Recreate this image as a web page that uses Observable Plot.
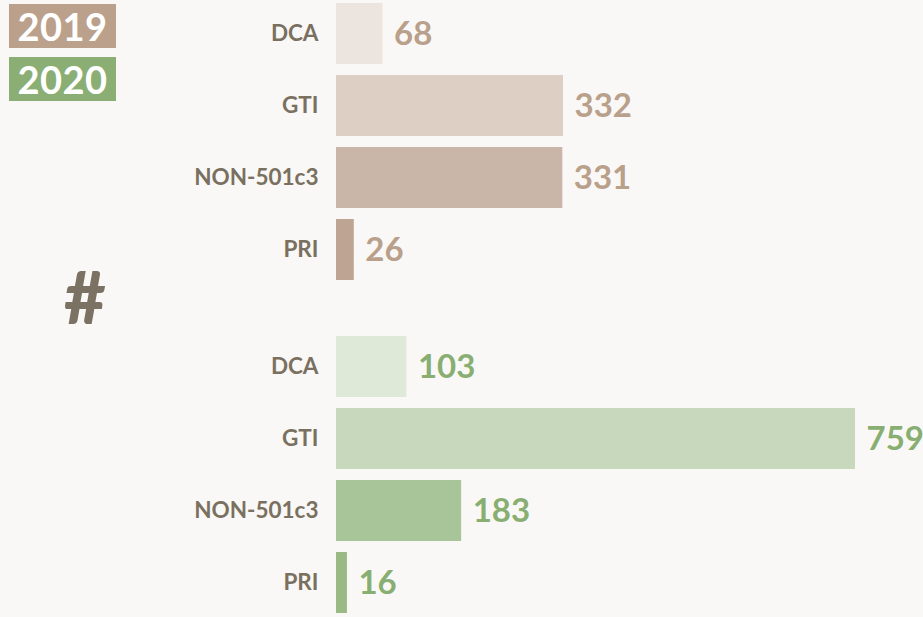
<!DOCTYPE html>
<html>
<head>
<meta charset="utf-8">
<script src="https://cdn.jsdelivr.net/npm/d3@7"></script>
<script src="https://cdn.jsdelivr.net/npm/@observablehq/plot@0.6"></script>
<style>
  html, body { margin: 0; padding: 0; background: #f9f8f6; }
  #wrap { position: relative; width: 923px; height: 617px; overflow: hidden; font-family: Lato, "Open Sans", sans-serif; }
  .yr { position: absolute; left: 9px; width: 107px; height: 44px; color: #fff; font-weight: 700; font-size: 38px; line-height: 44px; text-align: center; letter-spacing: 0.5px; }
  #hash { position: absolute; left: 64px; top: 253px; font-size: 72px; font-weight: 900; color: #7b7263; line-height: 86px; }
  #chart { position: absolute; left: 0; top: 0; }
</style>
</head>
<body>
<div id="wrap">
  <div id="chart"></div>
  <div class="yr" style="top:4px;background:#bba18c;">2019</div>
  <div class="yr" style="top:57px;background:#8aae74;">2020</div>
  <div id="hash">#</div>
</div>
<script>
const years = ["2019", "2020"];
const categories = ["DCA", "GTI", "NON-501c3", "PRI"];
const values2019 = [68, 332, 331, 26];
const values2020 = [103, 759, 183, 16];
const barColors2019 = ["#ece4df", "#decfc5", "#c9b6a8", "#bea593"];
const barColors2020 = ["#dfe9d8", "#c8d8bd", "#a8c499", "#9ab985"];
const labelColors = {"2019": "#b9a08b", "2020": "#88ae72"};

const series = {"2019": values2019, "2020": values2020};
const barColors = {"2019": barColors2019, "2020": barColors2020};
const data = years.flatMap(yr => categories.map((c, j) => ({
  year: yr, category: c, value: series[yr][j], fill: barColors[yr][j], labelFill: labelColors[yr]
})));

const chart = Plot.plot({
  width: 923,
  height: 617,
  marginLeft: 336,
  marginRight: 68,
  marginTop: 0,
  marginBottom: 0,
  style: {background: "transparent", fontFamily: "Lato, 'Open Sans', sans-serif", fontSize: "22.5px", fontWeight: 700, color: "#7a7060"},
  x: {domain: [0, 759], axis: null},
  y: {domain: categories, paddingInner: 0.159, paddingOuter: 0.025, tickSize: 0, tickPadding: 18, label: null},
  fy: {domain: years, paddingInner: 0.15, paddingOuter: 0, axis: null, label: null},
  color: {type: "identity"},
  marks: [
    Plot.barX(data, {x: "value", y: "category", fy: "year", fill: "fill"}),
    Plot.text(data, {x: "value", y: "category", fy: "year", text: d => String(d.value), dx: 11, textAnchor: "start", fill: "labelFill", fontSize: 33, fontWeight: 700})
  ]
});
document.getElementById("chart").appendChild(chart);
</script>
</body>
</html>
